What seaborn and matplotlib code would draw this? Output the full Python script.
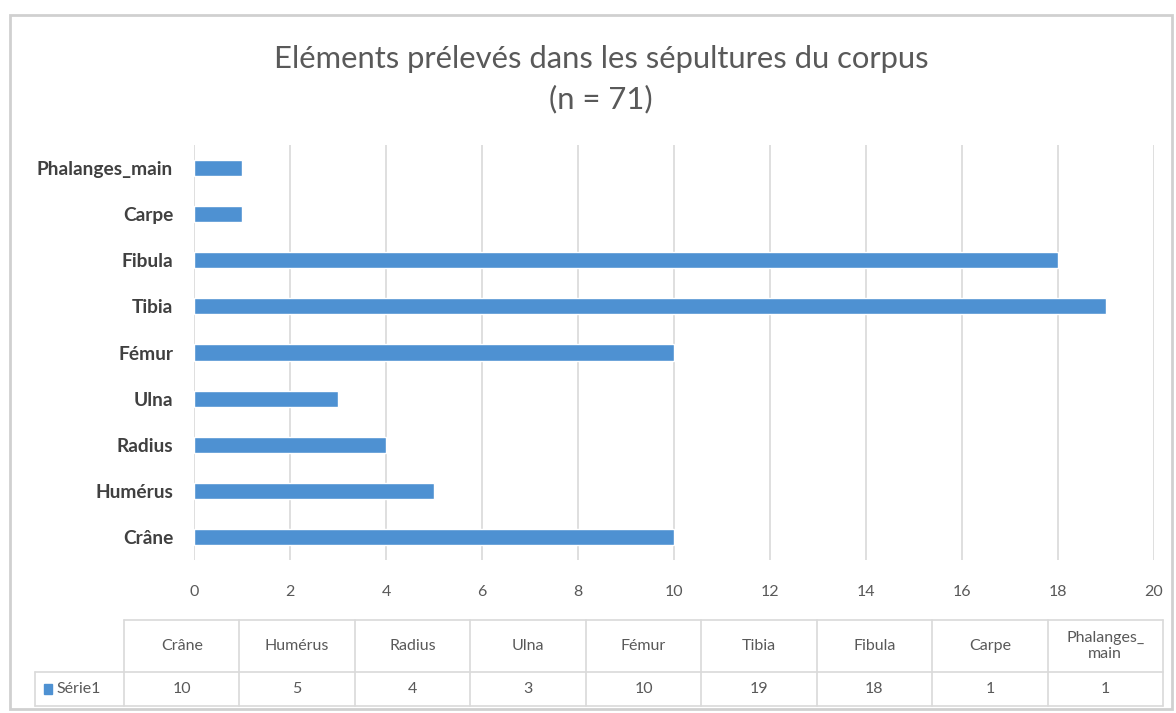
import numpy as np
import pandas as pd
import matplotlib
matplotlib.use("Agg")
import matplotlib.pyplot as plt
from matplotlib.patches import Rectangle
from matplotlib.lines import Line2D
import seaborn as sns

# Data
categories = ["Crâne", "Humérus", "Radius", "Ulna", "Fémur", "Tibia", "Fibula", "Carpe", "Phalanges_main"]
values = [10, 5, 4, 3, 10, 19, 18, 1, 1]
series_name = "Série1"
x_ticks = list(range(0, 21, 2))
title = "Eléments prélevés dans les sépultures du corpus\n(n = 71)"

BLUE = "#4E91D2"
GRID = "#D9D9D9"
TEXT = "#595959"
DARK = "#404040"

sns.set_theme(style="white")
plt.rcParams["font.family"] = ["Lato", "DejaVu Sans"]

W, H = 1176, 713
fig = plt.figure(figsize=(W / 100, H / 100), dpi=100)

def fx(px):
    return px / W

def fy(py):
    return 1 - py / H

# Plot area
ax = fig.add_axes([fx(194), fy(560), fx(1154) - fx(194), fy(145) - fy(560)])
df = pd.DataFrame({"element": categories, "count": values})
sns.barplot(data=df, y="element", x="count", order=categories[::-1],
            orient="h", color=BLUE, saturation=1, width=0.35, ax=ax)

ax.set_xlim(0, 20)
ax.set_ylim(8.5, -0.5)
ax.set_xticks(x_ticks)
ax.xaxis.grid(True, color=GRID, linewidth=1.2)
ax.set_axisbelow(True)
for s in ax.spines.values():
    s.set_visible(False)
ax.set_xlabel("")
ax.set_ylabel("")
ax.tick_params(axis="x", length=0, pad=18, labelsize=11.5, labelcolor=TEXT)
ax.tick_params(axis="y", length=0, pad=15, labelsize=13.8, labelcolor=DARK)
for lbl in ax.get_yticklabels():
    lbl.set_fontweight("bold")

# Title
fig.text(fx(601), fy(79), title, ha="center", va="center",
         fontsize=22.3, color=TEXT, linespacing=1.5)

# Outer chart frame
fig.patches.append(Rectangle((fx(10), fy(709)), fx(1172) - fx(10), fy(15) - fy(709),
                             transform=fig.transFigure, fill=False,
                             edgecolor="#D0D0D0", linewidth=2))

# Data table under the axis
col_edges = np.linspace(124, 1163, len(categories) + 1)
row_top, row_mid, row_bot = 620, 672, 706
leg_left = 35

def hline(x0, x1, y):
    fig.add_artist(Line2D([fx(x0), fx(x1)], [fy(y), fy(y)], color=GRID,
                          linewidth=1.2, transform=fig.transFigure))

def vline(x, y0, y1):
    fig.add_artist(Line2D([fx(x), fx(x)], [fy(y0), fy(y1)], color=GRID,
                          linewidth=1.2, transform=fig.transFigure))

hline(col_edges[0], col_edges[-1], row_top)
hline(leg_left, col_edges[-1], row_mid)
hline(leg_left, col_edges[-1], row_bot)
vline(leg_left, row_mid, row_bot)
for x in col_edges:
    vline(x, row_top, row_bot)

for i, (cat, val) in enumerate(zip(categories, values)):
    cx = (col_edges[i] + col_edges[i + 1]) / 2
    label = cat.replace("_", "_\n") if len(cat) > 10 else cat
    fig.text(fx(cx), fy((row_top + row_mid) / 2), label, ha="center", va="center",
             fontsize=11.5, color=TEXT, linespacing=1.15)
    fig.text(fx(cx), fy((row_mid + row_bot) / 2), str(val), ha="center", va="center",
             fontsize=11.5, color=TEXT)

# Legend key inside the table
ly = fy((row_mid + row_bot) / 2)
fig.patches.append(Rectangle((fx(44), ly - 0.0065), fx(8), 0.013,
                             transform=fig.transFigure, color=BLUE))
fig.text(fx(56), ly, series_name, ha="left", va="center", fontsize=11.5, color=TEXT)

fig.savefig("out.png", dpi=100, facecolor="white")
